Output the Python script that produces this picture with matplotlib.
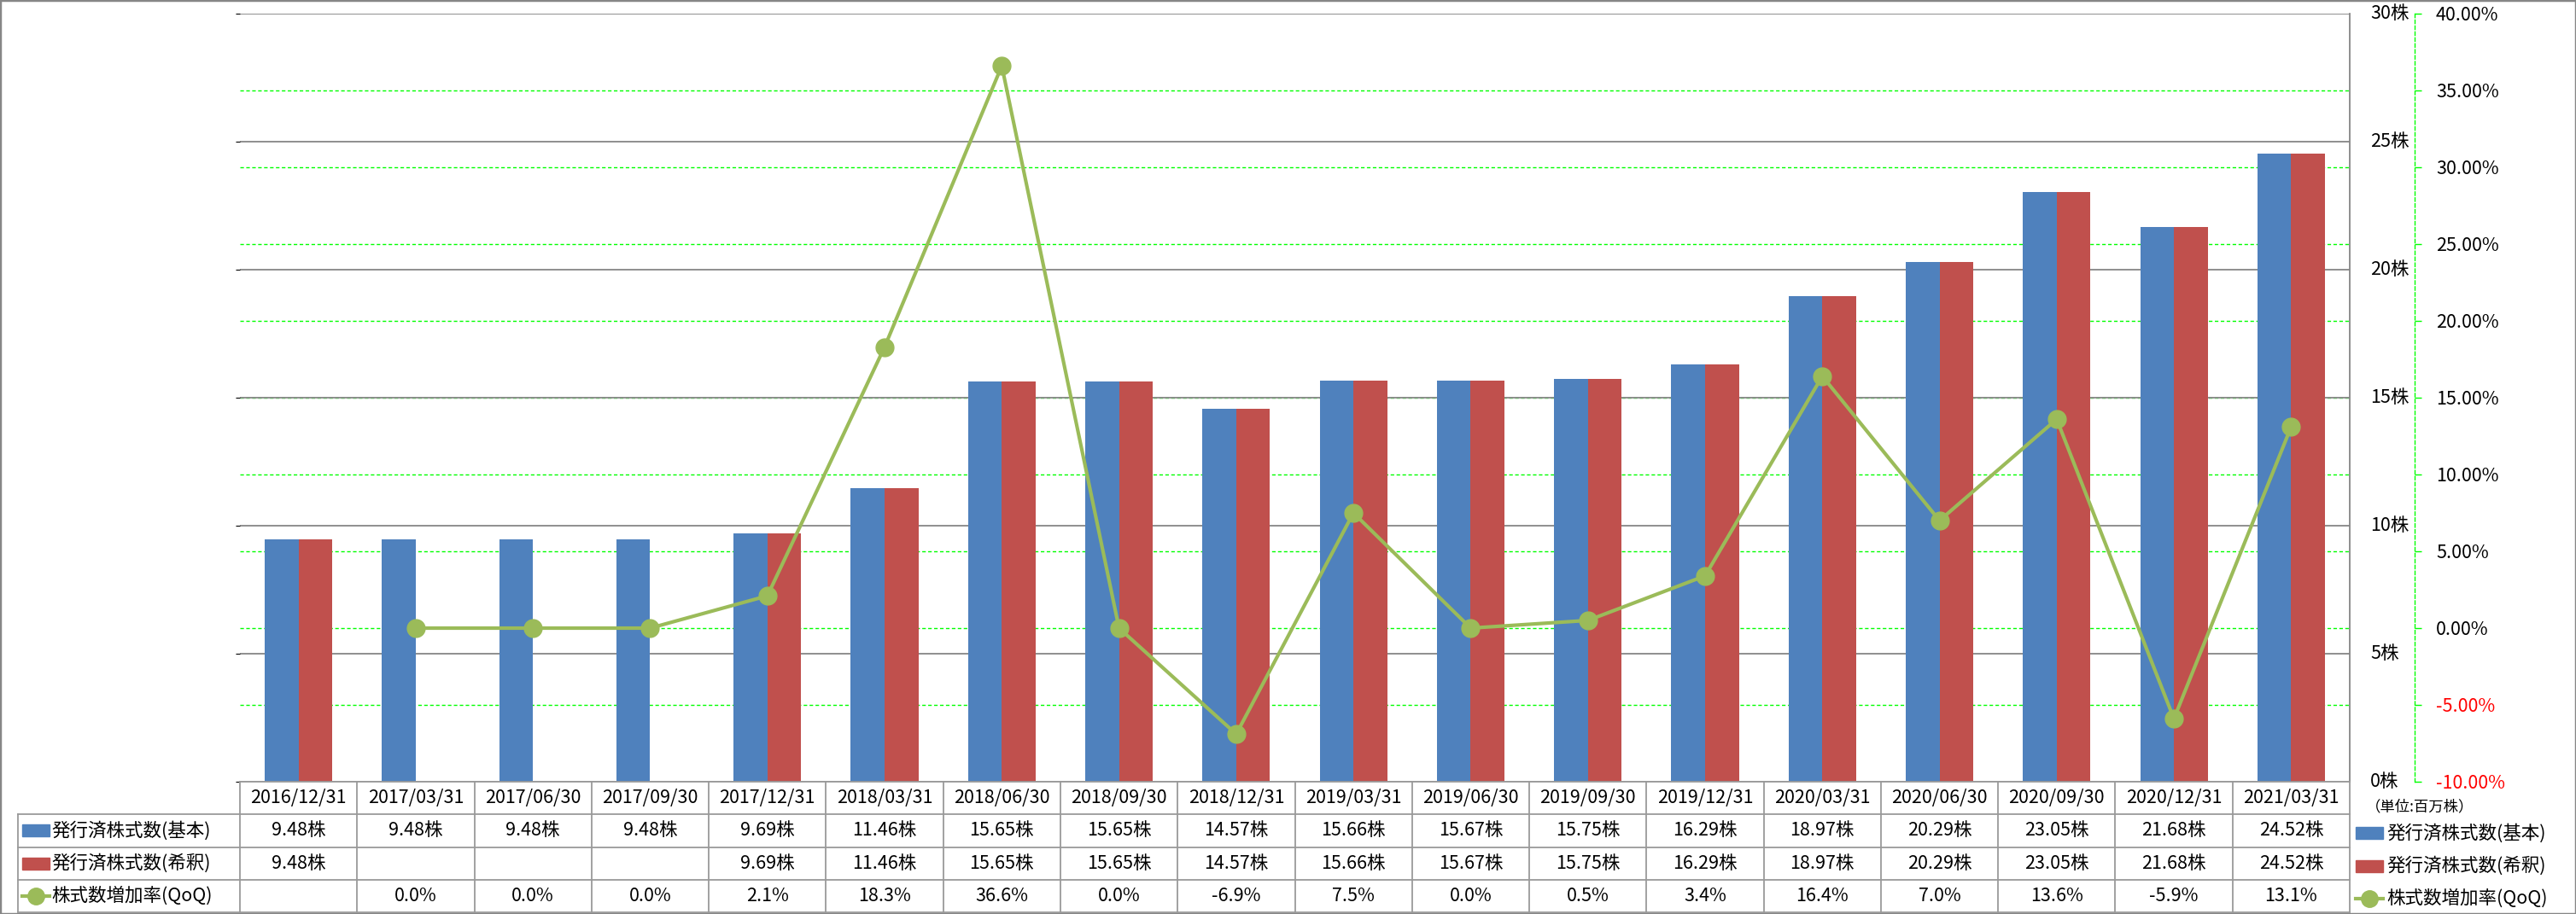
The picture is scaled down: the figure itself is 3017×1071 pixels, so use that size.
#!/usr/bin/env python
# -*- coding: utf-8 -*-
import matplotlib
matplotlib.use('Agg')
import matplotlib.pyplot as plt
import matplotlib.transforms as mtransforms
from matplotlib.lines import Line2D
from matplotlib.patches import Rectangle
import numpy as np

plt.rcParams['font.family'] = ['Noto Sans CJK JP', 'DejaVu Sans']

dates = ['2016/12/31', '2017/03/31', '2017/06/30', '2017/09/30', '2017/12/31',
         '2018/03/31', '2018/06/30', '2018/09/30', '2018/12/31', '2019/03/31',
         '2019/06/30', '2019/09/30', '2019/12/31', '2020/03/31', '2020/06/30',
         '2020/09/30', '2020/12/31', '2021/03/31']
basic = [9.48, 9.48, 9.48, 9.48, 9.69, 11.46, 15.65, 15.65, 14.57, 15.66,
         15.67, 15.75, 16.29, 18.97, 20.29, 23.05, 21.68, 24.52]
diluted = [9.48, np.nan, np.nan, np.nan, 9.69, 11.46, 15.65, 15.65, 14.57, 15.66,
           15.67, 15.75, 16.29, 18.97, 20.29, 23.05, 21.68, 24.52]
qoq = [np.nan, 0.0, 0.0, 0.0, 2.1, 18.3, 36.6, 0.0, -6.9, 7.5,
       0.0, 0.5, 3.4, 16.4, 7.0, 13.6, -5.9, 13.1]

series_names = ['発行済株式数(基本)', '発行済株式数(希釈)', '株式数増加率(QoQ)']
share_ticks = [0, 5, 10, 15, 20, 25, 30]
pct_ticks = [-10, -5, 0, 5, 10, 15, 20, 25, 30, 35, 40]
unit_label = '（単位:百万株）'

BLUE = '#4F81BD'
RED = '#C0504D'
GREEN = '#9BBB59'
GRID_GRAY = '#868686'
GRID_GREEN = '#00FF00'
TABLE_GRAY = '#9A9A9A'

W, H = 3017, 1071
L, R, T, B = 281, 2752, 16, 916
ROW = 38.3
FS = 15.5


def fx(px):
    return px / W


def fy(py):
    return 1 - py / H


def hline(fig, x0, x1, y, color=TABLE_GRAY, lw=1.3):
    fig.add_artist(Line2D([fx(x0), fx(x1)], [fy(y), fy(y)], color=color, lw=lw))


def vline(fig, x, y0, y1, color=TABLE_GRAY, lw=1.3):
    fig.add_artist(Line2D([fx(x), fx(x)], [fy(y0), fy(y1)], color=color, lw=lw))


def legend_key(fig, x0, x1, yc, kind):
    if kind == 'line':
        fig.add_artist(Line2D([fx(x0), fx(x1)], [fy(yc), fy(yc)], color=GREEN,
                              lw=3))
        fig.add_artist(Line2D([fx((x0 + x1) / 2)], [fy(yc)], color=GREEN,
                              marker='o', markersize=14, lw=0))
    else:
        color = BLUE if kind == 'basic' else RED
        fig.add_artist(Rectangle((fx(x0), fy(yc + 7)), fx(x1) - fx(x0), 14 / H,
                                 transform=fig.transFigure, color=color))


def main():
    fig = plt.figure(figsize=(W / 100, H / 100), dpi=100)
    ax = fig.add_axes([fx(L), fy(B), (R - L) / W, (B - T) / H])
    n = len(dates)
    x = np.arange(n)
    bw = 0.288

    ax.bar(x - bw / 2, basic, bw, color=BLUE, zorder=3)
    ax.bar(x + bw / 2, diluted, bw, color=RED, zorder=3)
    ax.set_xlim(-0.5, n - 0.5)
    ax.set_ylim(share_ticks[0], share_ticks[-1])
    ax.set_yticks(share_ticks)
    ax.set_axisbelow(True)
    ax.yaxis.grid(True, color=GRID_GRAY, lw=1.3)
    ax.tick_params(which='both', left=False, labelleft=False, right=False,
                   bottom=False, labelbottom=False)
    for s in ['top', 'bottom', 'left']:
        ax.spines[s].set_visible(False)
    ax.spines['right'].set_color(GRID_GRAY)
    ax.spines['right'].set_linewidth(1.3)

    # percent gridlines, drawn under the share gridlines and bars
    span = pct_ticks[-1] - pct_ticks[0]
    for p in pct_ticks[1:-1]:
        ax.axhline((p - pct_ticks[0]) * share_ticks[-1] / span, color=GRID_GREEN,
                   lw=1, ls=(0, (3, 2)), zorder=0.2)

    # share axis labels, left of the dashed spine
    trans = mtransforms.blended_transform_factory(ax.transAxes, ax.transData)
    for v in share_ticks:
        ax.text((2776 - L) / (R - L), v, '{}株'.format(v), transform=trans,
                ha='left', va='center', fontsize=FS, clip_on=False)

    ax2 = ax.twinx()
    ax2.plot(x, qoq, color=GREEN, lw=3, marker='o', markersize=15, zorder=5)
    ax2.set_ylim(pct_ticks[0], pct_ticks[-1])
    ax2.set_yticks(pct_ticks)
    ax2.set_yticklabels(['{:.2f}%'.format(p) for p in pct_ticks])
    for s in ['top', 'bottom', 'left']:
        ax2.spines[s].set_visible(False)
    ax2.spines['right'].set_position(('axes', (2828 - L) / (R - L)))
    ax2.spines['right'].set_color(GRID_GREEN)
    ax2.spines['right'].set_linestyle((0, (3, 2)))
    ax2.spines['right'].set_linewidth(1)
    ax2.tick_params(axis='y', which='both', left=False, colors=GRID_GREEN,
                    labelcolor='black', length=6, width=1, pad=12, labelsize=FS)
    ax2.tick_params(axis='x', which='both', bottom=False, labelbottom=False)
    for lbl, p in zip(ax2.get_yticklabels(), pct_ticks):
        if p < 0:
            lbl.set_color('red')

    # data table
    cw = (R - L) / n
    rows_y = [B + ROW * i for i in range(5)]
    hline(fig, L, R, rows_y[0])
    for y in rows_y[1:]:
        hline(fig, 21, R, y)
    vline(fig, 21, rows_y[1], rows_y[4])
    for i in range(n + 1):
        vline(fig, L + cw * i, rows_y[0], rows_y[4])

    row_vals = [
        ['' if np.isnan(v) else '{:.2f}株'.format(v) for v in basic],
        ['' if np.isnan(v) else '{:.2f}株'.format(v) for v in diluted],
        ['' if np.isnan(v) else '{:.1f}%'.format(v) for v in qoq],
    ]
    for i, d in enumerate(dates):
        xc = fx(L + cw * (i + 0.5))
        fig.text(xc, fy(rows_y[0] + ROW / 2), d, ha='center', va='center',
                 fontsize=FS)
        for r, vals in enumerate(row_vals):
            fig.text(xc, fy(rows_y[r + 1] + ROW / 2), vals[i], ha='center',
                     va='center', fontsize=FS)

    kinds = ['basic', 'diluted', 'line']
    for r, (name, kind) in enumerate(zip(series_names, kinds)):
        yc = rows_y[r + 1] + ROW / 2
        legend_key(fig, 26, 58, yc, kind)
        fig.text(fx(60), fy(yc), name, ha='left', va='center', fontsize=FS)
        legend_key(fig, 2759, 2791, yc + 3, kind)
        fig.text(fx(2795), fy(yc + 3), name, ha='left', va='center', fontsize=FS)

    fig.text(fx(2771), fy(945), unit_label, ha='left', va='center', fontsize=12.5)

    fig.add_artist(Rectangle((0, 0), 1, 1, transform=fig.transFigure, fill=False,
                             ec=GRID_GRAY, lw=2.5))
    fig.savefig('out.png', dpi=100)


if __name__ == '__main__':
    main()
